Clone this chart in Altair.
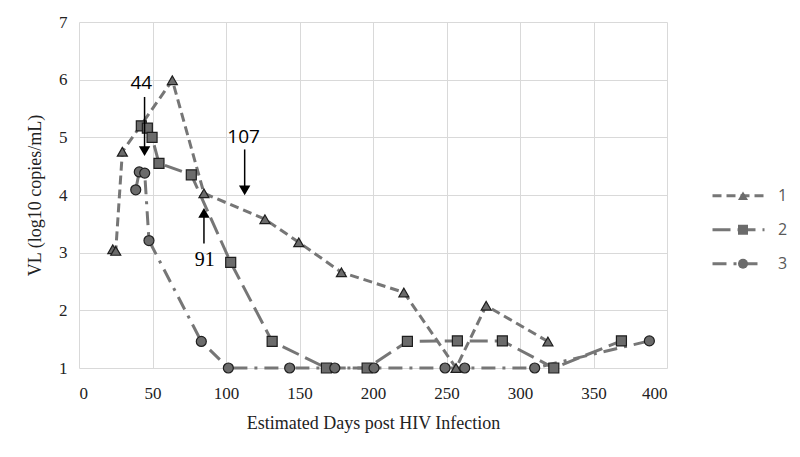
import altair as alt
import pandas as pd

# Series data (estimated days post infection, VL log10 copies/mL)
s1_days = [23, 25, 29.5, 63.5, 85, 126.5, 149.5, 178.5, 221, 256.5, 277, 319]
s1_vl = [3.06, 3.03, 4.75, 5.99, 4.03, 3.58, 3.18, 2.66, 2.31, 1.0, 2.08, 1.46]

s2_days = [42.4, 46.5, 49.7, 54.4, 76.4, 103.2, 131.4, 168.3, 196, 223.4, 257.4, 288, 323, 369]
s2_vl = [5.2, 5.16, 5.0, 4.55, 4.35, 2.83, 1.46, 1.0, 1.0, 1.46, 1.47, 1.47, 1.0, 1.47]

s3_days = [38.6, 41, 44.7, 47.6, 83.2, 101.6, 143.3, 174, 200.7, 249, 262.4, 310, 388]
s3_vl = [4.09, 4.4, 4.38, 3.21, 1.46, 1.0, 1.0, 1.0, 1.0, 1.0, 1.0, 1.0, 1.47]

series_names = ["1", "2", "3"]

# Annotations
arrow_x = [44.6, 112.7, 85]
arrow_start = [5.70, 4.79, 3.16]
arrow_head = [4.76, 4.08, 3.69]
arrow_shape = ["triangle-down", "triangle-down", "triangle-up"]
label_text = ["44", "107", "91"]
label_x = [42.4, 112, 85.5]
label_y = [5.94, 5.0, 2.87]

rows = []
for name, xs, ys in zip(series_names, [s1_days, s2_days, s3_days], [s1_vl, s2_vl, s3_vl]):
    for x, y in zip(xs, ys):
        rows.append({"days": x, "vl": y, "series": name, "grp": name})
df = pd.DataFrame(rows)

arrows = pd.DataFrame({"x": arrow_x, "y0": arrow_start, "y1": arrow_head, "shape": arrow_shape})
labels = pd.DataFrame({"x": label_x, "y": label_y, "text": label_text})

LINE_GRAY = "#767676"
FILL_GRAY = "#6b6b6b"
EDGE = "#1e1e1e"
SERIF = "Liberation Serif"

x_enc = alt.X("days:Q", scale=alt.Scale(domain=[0, 400], nice=False),
              axis=alt.Axis(values=list(range(0, 401, 50)), format="d",
                            labelFont=SERIF, titleFont=SERIF,
                            title="Estimated Days post HIV Infection"))
y_enc = alt.Y("vl:Q", scale=alt.Scale(domain=[1, 7], nice=False),
              axis=alt.Axis(values=[1, 2, 3, 4, 5, 6, 7], format="d",
                            labelFont=SERIF, titleFont=SERIF,
                            title="VL (log10 copies/mL)"))

lines = alt.Chart(df).mark_line(color=LINE_GRAY, strokeWidth=3).encode(
    x=x_enc, y=y_enc,
    strokeDash=alt.StrokeDash("series:N",
        scale=alt.Scale(domain=series_names, range=[[9, 5], [18, 7], [14, 7, 3, 7]]),
        legend=alt.Legend(title=None, orient="none", legendX=632, legendY=157,
                          symbolType="stroke", symbolSize=2704, symbolStrokeWidth=3,
                          symbolStrokeColor=LINE_GRAY, clipHeight=33.5, rowPadding=0, padding=0,
                          labelOffset=12, labelFont="Open Sans", labelFontSize=16,
                          labelColor="#595959")),
    detail="series:N",
)

points = alt.Chart(df).mark_point(filled=True, fill=FILL_GRAY, stroke=EDGE, strokeWidth=1.2,
                                  size=100, opacity=1).encode(
    x="days:Q", y="vl:Q",
    shape=alt.Shape("grp:N",
        scale=alt.Scale(range=["triangle-up", "square", "circle"]),
        legend=alt.Legend(title=None, orient="none", legendX=656, legendY=157,
                          symbolSize=100, symbolFillColor=FILL_GRAY, symbolStrokeColor=EDGE,
                          symbolStrokeWidth=1.2, clipHeight=33.5, rowPadding=0, padding=0,
                          labelOpacity=0, labelFontSize=16)),
)

arrow_lines = alt.Chart(arrows).mark_rule(color="black", strokeWidth=1.5).encode(
    x="x:Q", y="y0:Q", y2="y1:Q")
arrow_heads = alt.Chart(arrows).mark_point(filled=True, color="black", size=130, opacity=1).encode(
    x="x:Q", y="y1:Q",
    shape=alt.Shape("shape:N", scale=None, legend=None))

sans_labels = alt.Chart(labels[labels["text"] != "91"]).mark_text(
    font="Open Sans", fontSize=19, color="black").encode(x="x:Q", y="y:Q", text="text:N")
serif_labels = alt.Chart(labels[labels["text"] == "91"]).mark_text(
    font=SERIF, fontSize=20, color="black").encode(x="x:Q", y="y:Q", text="text:N")

chart = alt.layer(lines, points, arrow_lines, arrow_heads, sans_labels, serif_labels).resolve_scale(
    shape="independent"
).properties(
    width=588, height=346, autosize="none",
    padding={"left": 71, "top": 14, "right": 123, "bottom": 75},
).configure_view(stroke=None).configure_axis(
    grid=True, gridColor="#d9d9d9", gridWidth=1, domain=False, ticks=False,
    labelFont=SERIF, labelFontSize=17, labelColor="#222222",
    titleFont=SERIF, titleFontSize=18, titleFontWeight="normal", titleColor="#222222",
).configure_axisX(labelPadding=17, titlePadding=13).configure_axisY(labelPadding=12, titlePadding=14)

chart.save("out.html", embed_options={"renderer": "svg", "actions": False})
